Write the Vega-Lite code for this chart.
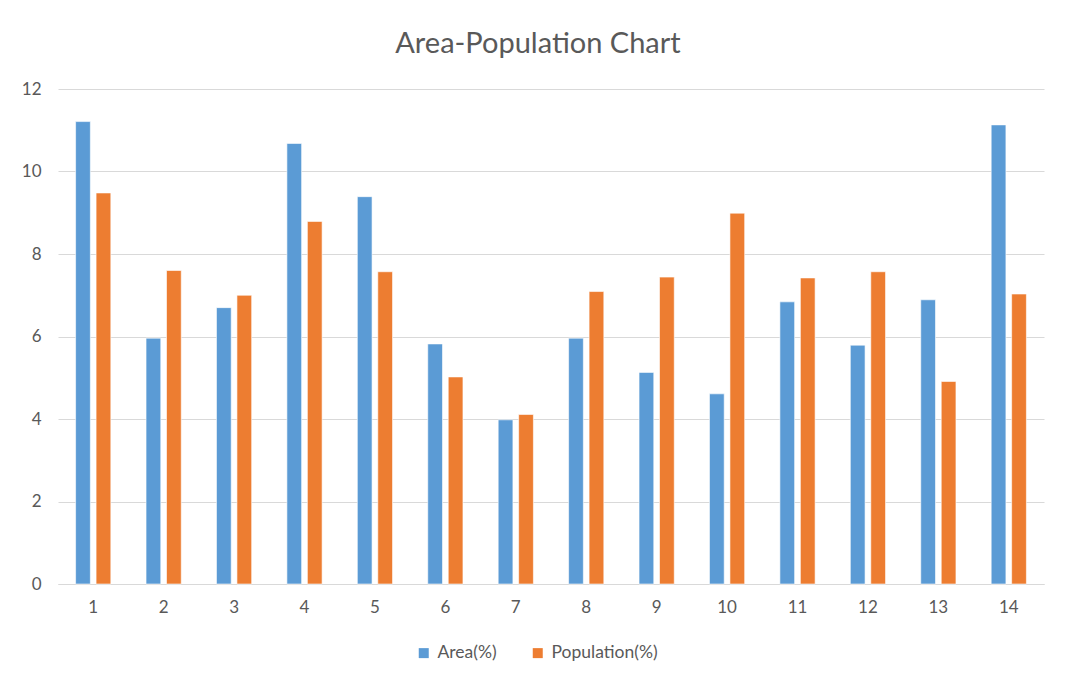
{
  "$schema": "https://vega.github.io/schema/vega-lite/v6.json",
  "width": 986,
  "height": 495,
  "autosize": {"type": "none"},
  "padding": {"left": 58, "top": 89, "right": 32, "bottom": 97},
  "background": "white",
  "config": {
    "view": {"stroke": null},
    "font": "Lato"
  },
  "title": {
    "text": "Area-Population Chart",
    "fontSize": 29,
    "fontWeight": "normal",
    "color": "#595959",
    "font": "Lato",
    "anchor": "middle",
    "dx": -13,
    "offset": 21
  },
  "data": {
    "values": [
      {"n": 1, "series": "Area(%)", "value": 11.21},
      {"n": 1, "series": "Population(%)", "value": 9.48},
      {"n": 2, "series": "Area(%)", "value": 5.96},
      {"n": 2, "series": "Population(%)", "value": 7.60},
      {"n": 3, "series": "Area(%)", "value": 6.70},
      {"n": 3, "series": "Population(%)", "value": 7.00},
      {"n": 4, "series": "Area(%)", "value": 10.68},
      {"n": 4, "series": "Population(%)", "value": 8.79},
      {"n": 5, "series": "Area(%)", "value": 9.39},
      {"n": 5, "series": "Population(%)", "value": 7.57},
      {"n": 6, "series": "Area(%)", "value": 5.82},
      {"n": 6, "series": "Population(%)", "value": 5.02},
      {"n": 7, "series": "Area(%)", "value": 3.98},
      {"n": 7, "series": "Population(%)", "value": 4.11},
      {"n": 8, "series": "Area(%)", "value": 5.96},
      {"n": 8, "series": "Population(%)", "value": 7.09},
      {"n": 9, "series": "Area(%)", "value": 5.13},
      {"n": 9, "series": "Population(%)", "value": 7.44},
      {"n": 10, "series": "Area(%)", "value": 4.61},
      {"n": 10, "series": "Population(%)", "value": 8.99},
      {"n": 11, "series": "Area(%)", "value": 6.84},
      {"n": 11, "series": "Population(%)", "value": 7.42},
      {"n": 12, "series": "Area(%)", "value": 5.79},
      {"n": 12, "series": "Population(%)", "value": 7.57},
      {"n": 13, "series": "Area(%)", "value": 6.89},
      {"n": 13, "series": "Population(%)", "value": 4.91},
      {"n": 14, "series": "Area(%)", "value": 11.13},
      {"n": 14, "series": "Population(%)", "value": 7.03}
    ]
  },
  "mark": {"type": "bar", "stroke": "white", "strokeWidth": 0.6},
  "encoding": {
    "x": {
      "field": "n",
      "type": "ordinal",
      "scale": {"paddingInner": 0.5, "paddingOuter": 0.25},
      "axis": {
        "title": null,
        "labelAngle": 0,
        "labelFontSize": 17,
        "labelColor": "#595959",
        "labelPadding": 15,
        "ticks": false,
        "domain": true,
        "domainColor": "#D9D9D9",
        "domainWidth": 1,
        "grid": false
      }
    },
    "xOffset": {
      "field": "series",
      "type": "nominal",
      "scale": {"paddingInner": 0.28, "paddingOuter": 0}
    },
    "y": {
      "field": "value",
      "type": "quantitative",
      "scale": {"domain": [0, 12], "nice": false},
      "axis": {
        "title": null,
        "values": [0, 2, 4, 6, 8, 10, 12],
        "labelFontSize": 17,
        "labelColor": "#595959",
        "labelPadding": 17,
        "ticks": false,
        "domain": false,
        "grid": true,
        "gridColor": "#D9D9D9",
        "gridWidth": 1
      }
    },
    "color": {
      "field": "series",
      "type": "nominal",
      "scale": {"domain": ["Area(%)", "Population(%)"], "range": ["#5B9BD5", "#ED7D31"]},
      "legend": {
        "title": null,
        "orient": "none",
        "direction": "horizontal",
        "legendX": 357,
        "legendY": 555,
        "symbolType": "square",
        "symbolSize": 100,
        "symbolStrokeWidth": 0,
        "labelFontSize": 17.5,
        "labelColor": "#595959",
        "labelOffset": 5,
        "columnPadding": 32
      }
    }
  }
}
